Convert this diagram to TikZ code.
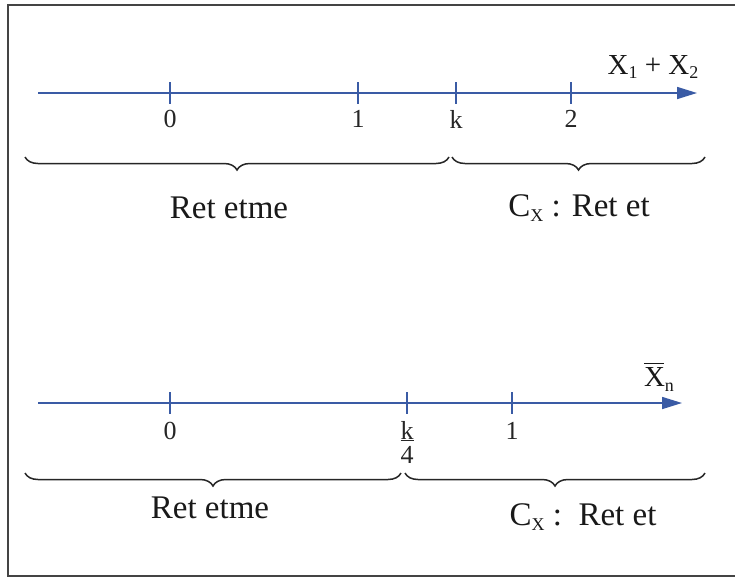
\documentclass[tikz,border=0pt]{standalone}
\usepackage{fontspec}
\setmainfont{Liberation Serif}
\usetikzlibrary{arrows.meta,decorations.pathreplacing}
\definecolor{axisblue}{HTML}{3A5BA5}
\definecolor{framegray}{HTML}{444444}
\newcommand{\sub}[1]{\raisebox{-0.35ex}{\fontsize{18}{20}\selectfont #1}}
\newcommand{\barX}{\makebox[0pt][l]{\raisebox{0.78em}{\rule{0.68em}{0.05em}}}X}
\begin{document}
\begin{tikzpicture}[x=1pt,y=-1pt,
  axisline/.style={draw=axisblue,line width=1.6pt,-{Triangle[length=20pt,width=12pt]}},
  tickmark/.style={draw=axisblue,line width=1.4pt},
  ticklabel/.style={font=\fontsize{26}{28}\selectfont,inner sep=0pt,text=black!85},
  bracestyle/.style={draw=black!85,line width=1.5pt,decorate,decoration={brace,mirror,amplitude=13pt,aspect=0.5}},
  regionlabel/.style={font=\fontsize{33}{35}\selectfont,inner sep=0pt,text=black!90},
  axislabel/.style={font=\fontsize{29}{32}\selectfont,inner sep=0pt,text=black!90}]
\useasboundingbox (0,0) rectangle (735,579);
\fill[white] (0,0) rectangle (735,579);
% frame (left, top, bottom)
\draw[framegray,line width=2.2pt] (735,5) -- (8,5) -- (8,576) -- (735,576);

% ---------- top axis ----------
\coordinate (a1s) at (38,93);
\coordinate (a1e) at (697,93);
\draw[axisline] (a1s) -- (a1e);
\foreach \n/\x in {t0/170,t1/358,tk/456,t2/571}{
  \coordinate (\n) at (\x,93);
  \draw[tickmark] (\n) ++(0,-11) -- ++(0,22);
}
\node[ticklabel] (l0) at (170,119) {0};
\node[ticklabel] (l1) at (358,119) {1};
\node[ticklabel] (lk) at (456,119) {k};
\node[ticklabel] (l2) at (571,119) {2};
\node[axislabel] (lx) at (653,67) {X\sub{1} + X\sub{2}};
\coordinate (b1a) at (25,157);
\coordinate (b1b) at (449,157);
\coordinate (b2a) at (452,157);
\coordinate (b2b) at (705,157);
\draw[bracestyle] (b1a) -- (b1b);
\draw[bracestyle] (b2a) -- (b2b);
\node[regionlabel] (r1) at (229,208) {Ret etme};
\node[regionlabel] (r2) at (579,208) {C\sub{X} : Ret et};

% ---------- bottom axis ----------
\coordinate (a2s) at (38,403);
\coordinate (a2e) at (682,403);
\draw[axisline] (a2s) -- (a2e);
\foreach \n/\x in {u0/170,uk/407,u1/512}{
  \coordinate (\n) at (\x,403);
  \draw[tickmark] (\n) ++(0,-11) -- ++(0,22);
}
\node[ticklabel] (m0) at (170,431) {0};
\node[ticklabel,align=center] (mk) at (407,442) {\underline{k}\\[-4pt]4};
\node[ticklabel] (m1) at (512,431) {1};
\node[axislabel] (mx) at (659,377) {\barX\sub{n}};
\coordinate (c1a) at (25,473);
\coordinate (c1b) at (401,473);
\coordinate (c2a) at (405,473);
\coordinate (c2b) at (705,473);
\draw[bracestyle] (c1a) -- (c1b);
\draw[bracestyle] (c2a) -- (c2b);
\node[regionlabel] (s1) at (210,508) {Ret etme};
\node[regionlabel] (s2) at (583,517) {C\sub{X} :\, Ret et};
\end{tikzpicture}
\end{document}
